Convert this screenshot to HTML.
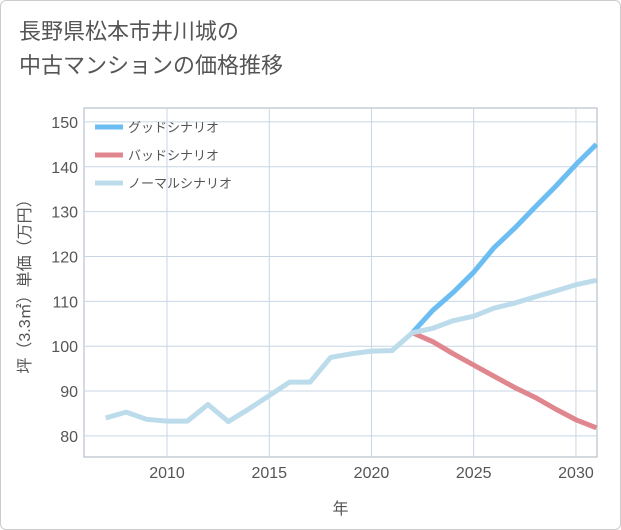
<!DOCTYPE html>
<html><head><meta charset="utf-8"><style>
body{margin:0;background:#fff;font-family:"Liberation Sans","Noto Sans CJK JP",sans-serif}
#wrap{position:relative;width:619px;height:528px;border:1px solid #ccc;border-radius:6px;background:#fff;overflow:hidden}
#title{position:absolute;left:18px;top:14px;font-size:22px;line-height:34px;color:#555}
</style></head><body>
<div id="wrap">
<div id="title">長野県松本市井川城の<br>中古マンションの価格推移</div>
<svg id="chart" width="621" height="530" style="position:absolute;left:-1px;top:-1px"></svg>
</div>
<script>
const years=[2007,2008,2009,2010,2011,2012,2013,2014,2015,2016,2017,2018,2019,2020,2021,2022,2023,2024,2025,2026,2027,2028,2029,2030,2031];
const normal=[84,85.3,83.7,83.3,83.3,87,83.2,86,89,92,92,97.5,98.3,98.9,99,103,104,105.7,106.7,108.5,109.6,111,112.3,113.7,114.7];
const predYears=[2022,2023,2024,2025,2026,2027,2028,2029,2030,2031];
const good=[103,108,112,116.5,122,126.3,131,135.6,140.5,145];
const bad=[103,101,98.3,95.8,93.3,90.8,88.6,86,83.6,81.8];
const xTicks=[2010,2015,2020,2025,2030];
const yTicks=[80,90,100,110,120,130,140,150];
const NS="http://www.w3.org/2000/svg",svg=document.getElementById('chart');
const L=84,R=597,T=108,B=457,x0=2005.94,x1=2031.03,y0=75.3,y1=153.1;
const X=v=>L+(v-x0)/(x1-x0)*(R-L),Y=v=>B-(v-y0)/(y1-y0)*(B-T);
function mk(t,a,p){const e=document.createElementNS(NS,t);for(const k in a)e.setAttribute(k,a[k]);(p||svg).appendChild(e);return e;}
const bg=mk('rect',{x:L,y:T,width:R-L,height:B-T,fill:'#fff',stroke:'#aab4c0'});


xTicks.forEach(t=>{const g=mk('line',{x1:X(t),x2:X(t),y1:T,y2:B,stroke:'#c8d6e4'});


const tx=mk('text',{x:X(t),y:B+21,'text-anchor':'middle','font-size':16,fill:'#555'});tx.textContent=t;

});
yTicks.forEach(t=>{const g=mk('line',{x1:L,x2:R,y1:Y(t),y2:Y(t),stroke:'#c8d6e4'});


const tx=mk('text',{x:L-6,y:Y(t)+6,'text-anchor':'end','font-size':16,fill:'#555'});tx.textContent=t;

});
function line(xs,ys,c,name){const p=mk('polyline',{points:xs.map((v,i)=>X(v)+','+Y(ys[i])).join(' '),fill:'none',stroke:c,'stroke-width':5,'stroke-linejoin':'round'});

}
line(predYears,bad,'#e0868e','bad-scenario-line');
line(predYears,good,'#6bbdf2','good-scenario-line');
line(years,normal,'#bcdceb','normal-scenario-line');
const xt=mk('text',{x:(L+R)/2,y:514,'text-anchor':'middle','font-size':16,fill:'#555'});xt.textContent='年';


const yt=mk('text',{x:0,y:0,'text-anchor':'middle','font-size':16,fill:'#555',transform:`translate(30,${(T+B)/2}) rotate(-90)`});yt.textContent='坪（3.3㎡）単価（万円）';


const leg=[['グッドシナリオ','#6bbdf2'],['バッドシナリオ','#e0868e'],['ノーマルシナリオ','#bcdceb']];
leg.forEach((d,i)=>{const y=127+i*28;
const g=mk('g',{});


mk('line',{x1:95,x2:123,y1:y,y2:y,stroke:d[1],'stroke-width':5},g);
const t=mk('text',{x:128,y:y+5,'font-size':13,fill:'#555'},g);t.textContent=d[0];});
</script>
</body></html>
